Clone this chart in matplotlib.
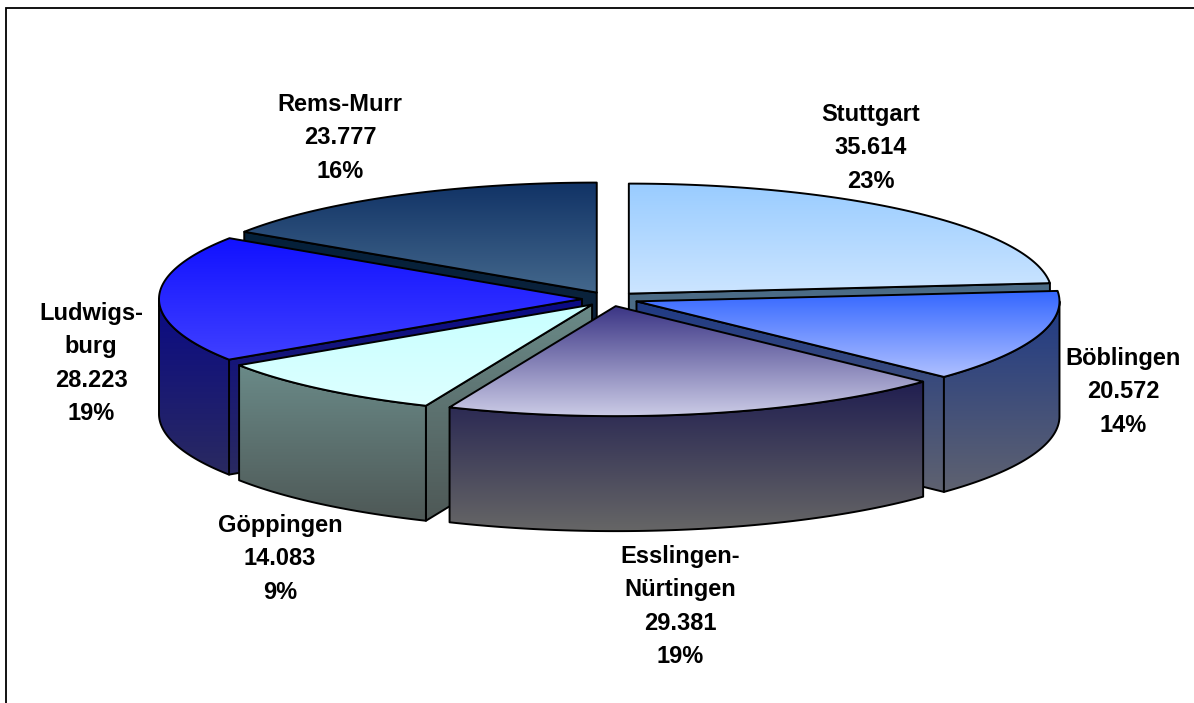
import numpy as np
import matplotlib
matplotlib.use("Agg")
import matplotlib.pyplot as plt
from matplotlib.patches import Polygon
from matplotlib.colors import LinearSegmentedColormap

plt.rcParams['font.family'] = ['Liberation Sans', 'DejaVu Sans']

# data
names = ["Stuttgart", "Böblingen", "Esslingen-\nNürtingen", "Göppingen", "Ludwigs-\nburg", "Rems-Murr"]
values = [35614, 20572, 29381, 14083, 28223, 23777]

# styles
top_colors = [("#99CCFF", "#CCE5FF"), ("#3366FF", "#AFC0FF"), ("#3B3585", "#CBCBE6"),
              ("#C8FFFF", "#DDFFFF"), ("#1111FF", "#4040FF"), ("#113366", "#44688C")]
wall_colors = [("#4A6A85", "#5A7A95"), ("#1F3A85", "#5F6270"), ("#201E50", "#666666"),
               ("#6A8A88", "#4E5856"), ("#0A0A85", "#2A2A60"), ("#04203A", "#15263E")]
label_pos = [(871, 121), (1123, 365), (680, 563), (280, 532), (91, 320), (340, 111)]
LINE_PITCH = 33.4

CX, CY, RX, RY, DEPTH, EXPLODE = 610, 299, 423, 110, 115, 28

W, H = 1194, 703
fig = plt.figure(figsize=(W / 100, H / 100), dpi=100)
ax = fig.add_axes([0, 0, 1, 1])
ax.set_xlim(0, W)
ax.set_ylim(H, 0)
ax.axis("off")

total = sum(values)
ends = np.cumsum(values) / total * 360
starts = np.r_[0, ends[:-1]]
z = [2]


def pt(ax0, ay0, deg):
    a = np.radians(deg)
    return ax0 + RX * np.sin(a), ay0 - RY * np.cos(a)


def shade(poly, c0, c1):
    """Fill a polygon with a vertical gradient and a black outline."""
    poly = np.asarray(poly)
    y0, y1 = poly[:, 1].min(), poly[:, 1].max()
    x0, x1 = poly[:, 0].min(), poly[:, 0].max()
    cmap = LinearSegmentedColormap.from_list("g", [c0, c1])
    grad = np.linspace(0, 1, 256).reshape(-1, 1)
    im = ax.imshow(grad, cmap=cmap, extent=(x0, x1, y1, y0), aspect="auto",
                   zorder=z[0], interpolation="bilinear")
    patch = Polygon(poly, closed=True, transform=ax.transData, fill=False, lw=0)
    ax.add_patch(patch)
    im.set_clip_path(patch)
    ax.add_patch(Polygon(poly, closed=True, fill=False, ec="black", lw=1.4,
                         joinstyle="round", zorder=z[0] + 1))
    z[0] += 2


order = sorted(range(len(values)),
               key=lambda i: -np.cos(np.radians((starts[i] + ends[i]) / 2)))

for i in order:
    s, e = starts[i], ends[i]
    m = np.radians((s + e) / 2)
    ox = CX + EXPLODE * np.sin(m)
    oy = CY - EXPLODE * RY / RX * np.cos(m)
    c0, c1 = wall_colors[i]

    # radial cut faces that look towards the viewer
    for deg, visible in ((s, s > 180), (e, e < 180)):
        if visible:
            p = pt(ox, oy, deg)
            shade([(ox, oy), p, (p[0], p[1] + DEPTH), (ox, oy + DEPTH)], c0, c1)

    # outer wall
    a0, a1 = max(s, 90), min(e, 270)
    if a1 > a0:
        th = np.linspace(a0, a1, 120)
        up = np.array([pt(ox, oy, t) for t in th])
        low = up[::-1] + [0, DEPTH]
        shade(np.vstack([up, low]), c0, c1)

    # top face
    th = np.linspace(s, e, 200)
    arc = np.array([pt(ox, oy, t) for t in th])
    shade(np.vstack([[(ox, oy)], arc]), *top_colors[i])

# frame (top and left only)
ax.plot([6, 6, W], [H, 8, 8], color="black", lw=1.3, zorder=z[0],
        solid_joinstyle="miter")

# labels
for name, v, (lx, ly) in zip(names, values, label_pos):
    lines = name.split("\n") + [f"{v:,}".replace(",", "."), f"{round(v / total * 100)}%"]
    for k, line in enumerate(lines):
        ax.text(lx, ly + k * LINE_PITCH, line, ha="center", va="baseline",
                fontsize=17, fontweight="bold", color="black", zorder=z[0] + 1)

fig.savefig("out.png", dpi=100, facecolor="white")
